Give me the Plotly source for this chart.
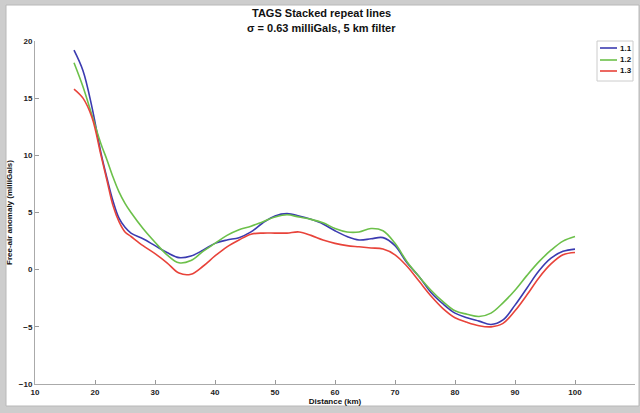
import plotly.graph_objects as go

# Distance (km) sample points
dist = [16.5, 18, 19.5, 21, 22, 23, 24, 25, 26, 28, 30, 32, 34, 36, 38, 40, 42, 44, 46, 48,
        50, 52, 54, 56, 58, 60, 62, 64, 66, 68, 70, 72, 74, 76, 78, 80, 82, 84, 86, 88,
        90, 92, 94, 96, 98, 100]

line_11 = [19.2, 17.4, 14.2, 10.2, 8.0, 6.0, 4.5, 3.7, 3.2, 2.7, 2.1, 1.5, 1.05, 1.2, 1.7, 2.3,
           2.6, 2.8, 3.3, 4.1, 4.7, 4.9, 4.7, 4.4, 4.0, 3.4, 2.9, 2.6, 2.7, 2.8, 2.1, 0.6,
           -0.6, -2.0, -3.0, -3.8, -4.2, -4.5, -4.8, -4.4, -3.1, -1.6, -0.1, 1.0, 1.6, 1.8]

line_12 = [18.1, 16.0, 13.5, 11.0, 9.6, 8.1, 6.8, 5.8, 5.0, 3.6, 2.4, 1.3, 0.6, 0.8, 1.6, 2.3,
           3.0, 3.5, 3.8, 4.2, 4.6, 4.8, 4.6, 4.4, 4.1, 3.6, 3.3, 3.3, 3.6, 3.4, 2.3, 0.7,
           -0.6, -1.8, -2.8, -3.6, -3.9, -4.1, -3.8, -2.9, -1.8, -0.5, 0.7, 1.7, 2.5, 2.9]

line_13 = [15.8, 15.0, 13.3, 10.0, 7.8, 5.6, 4.2, 3.3, 2.9, 2.1, 1.4, 0.6, -0.3, -0.4, 0.3, 1.2,
           2.0, 2.6, 3.1, 3.2, 3.2, 3.2, 3.3, 3.0, 2.6, 2.3, 2.1, 2.0, 1.9, 1.8, 1.3, 0.3,
           -1.0, -2.3, -3.4, -4.2, -4.6, -4.9, -5.0, -4.7, -3.6, -2.2, -0.7, 0.5, 1.3, 1.5]

x_ticks = [10, 20, 30, 40, 50, 60, 70, 80, 90, 100, 110]
y_ticks = [-10, -5, 0, 5, 10, 15, 20]
title_lines = ["TAGS Stacked repeat lines", "σ = 0.63 milliGals, 5 km filter"]

series = [("1.1", line_11, "#3b3bb0"), ("1.2", line_12, "#6cc04a"), ("1.3", line_13, "#e8433a")]

FONT = "Liberation Sans, Arial, sans-serif"

W, H = 640, 413
L, R, T, B = 35, 5, 41, 29
pw, ph = W - L - R, H - T - B


def px2x(px):
    return (px - L) / pw


def py2y(py):
    return (H - B - py) / ph


fig = go.Figure()
for name, vals, col in series:
    fig.add_trace(go.Scatter(x=dist, y=vals, name=name, mode="lines", showlegend=False,
                             line=dict(color=col, width=1.6, shape="spline", smoothing=1.0)))

shapes = [
    dict(type="rect", xref="paper", yref="paper", layer="below",
         x0=px2x(6), x1=px2x(639), y0=py2y(406), y1=py2y(5),
         fillcolor="white", line=dict(color="#b8b8b8", width=1)),
    # legend box
    dict(type="rect", xref="paper", yref="paper", layer="above",
         x0=px2x(597), x1=px2x(633), y0=py2y(81), y1=py2y(41),
         fillcolor="rgba(255,255,255,0)", line=dict(color="#cccccc", width=1)),
]
annotations = []
leg_y = [48, 60, 71]
for (name, vals, col), yy in zip(series, leg_y):
    shapes.append(dict(type="line", xref="paper", yref="paper", layer="above",
                       x0=px2x(600), x1=px2x(617), y0=py2y(yy), y1=py2y(yy),
                       line=dict(color=col, width=1.6)))
    annotations.append(dict(text=name, xref="paper", yref="paper", x=px2x(618), y=py2y(yy),
                            xanchor="left", yanchor="middle", showarrow=False,
                            font=dict(family=FONT, size=8, color="#111111", weight="bold")))

for txt, yy in zip(title_lines, [13, 28]):
    annotations.append(dict(text=txt, xref="paper", yref="paper", x=px2x(321), y=py2y(yy),
                            xanchor="center", yanchor="middle", showarrow=False,
                            font=dict(family=FONT, size=11, color="#111111", weight="bold")))

fig.update_layout(
    width=W, height=H,
    margin=dict(l=L, r=R, t=T, b=B, autoexpand=False),
    paper_bgcolor="#cdcdcd",
    plot_bgcolor="white",
    font=dict(family=FONT, size=8, color="#222222", weight="bold"),
    showlegend=False,
    shapes=shapes,
    annotations=annotations,
)

fig.update_xaxes(range=[10, 110], tickvals=x_ticks, ticks="inside", ticklen=4,
                 tickcolor="#999999", showline=True, linecolor="#aaaaaa", linewidth=1,
                 showgrid=False, zeroline=False, automargin=False,
                 tickfont=dict(family=FONT, size=8, color="#222222", weight="bold"),
                 title=dict(text="Distance (km)", standoff=2,
                            font=dict(family=FONT, size=8, color="#111111", weight="bold")))
fig.update_yaxes(range=[-10, 20], tickvals=y_ticks, ticks="inside", ticklen=4,
                 tickcolor="#999999", showline=True, linecolor="#aaaaaa", linewidth=1,
                 showgrid=False, zeroline=False, automargin=False,
                 tickfont=dict(family=FONT, size=8, color="#222222", weight="bold"),
                 title=dict(text="Free-air anomaly (milliGals)", standoff=5,
                            font=dict(family=FONT, size=8, color="#111111", weight="bold")))

fig.write_html("out.html", config={"displayModeBar": False},
               post_script="document.body.style.margin='0';document.body.style.overflow='hidden';")
